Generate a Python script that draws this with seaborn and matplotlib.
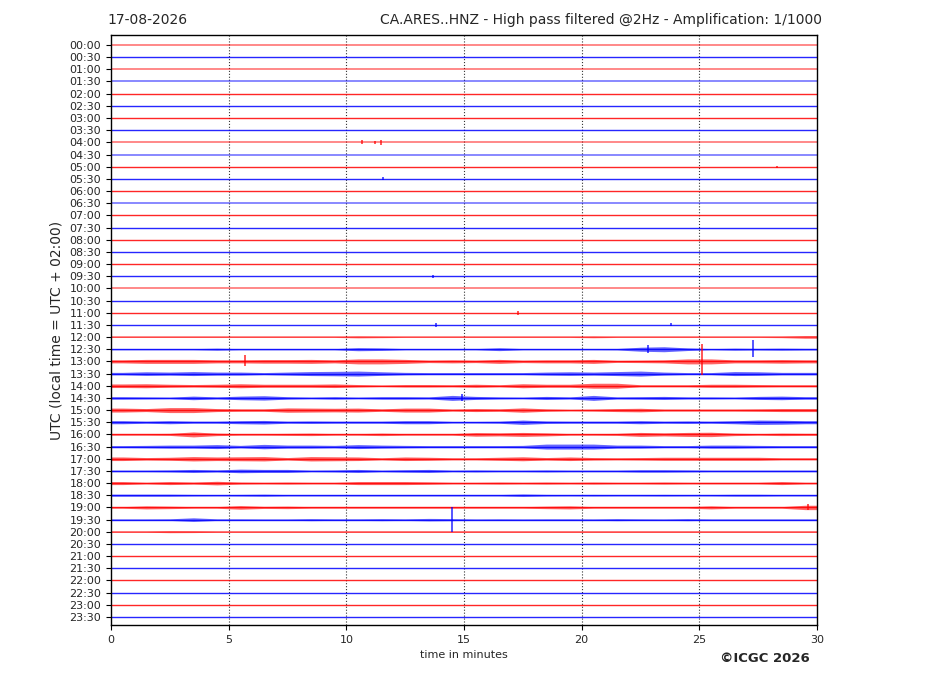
import numpy as np
import pandas as pd
import matplotlib
matplotlib.use("Agg")
import matplotlib.pyplot as plt
import seaborn as sns

# ---------------- data ----------------
date_label = "17-08-2026"
title_right = "CA.ARES..HNZ - High pass filtered @2Hz - Amplification: 1/1000"
row_labels = [f"{h:02d}:{m:02d}" for h in range(24) for m in (0, 30)]
row_colors = ["red", "blue"] * 24
pale_rows = ["00:00", "01:00", "01:30", "04:00", "04:30", "06:30", "10:00", "12:00", "20:00"]
minute_centers = np.arange(0.5, 30, 1.0)
x_ticks = [0, 5, 10, 15, 20, 25, 30]

# envelope half-amplitudes (pixels) per minute for the active rows
env_1200 = [0.4, 0.4, 0.4, 0.4, 0.4, 0.4, 0.4, 0.4, 0.4, 0.4, 0.8, 0.6, 0.4, 0.4, 0.4, 0.4, 0.4, 0.4, 0.4, 0.4, 0.7, 0.4, 0.4, 0.4, 0.4, 0.4, 0.4, 0.4, 0.6, 1.2]
env_1230 = [0.6, 0.6, 0.6, 0.6, 1.0, 0.6, 0.6, 0.6, 0.6, 0.6, 1.5, 1.2, 0.6, 0.6, 0.6, 0.6, 1.4, 0.6, 0.6, 0.6, 0.6, 0.7, 2.0, 2.5, 1.3, 0.6, 1.0, 0.8, 1.0, 0.8]
env_1300 = [1.5, 2.0, 2.0, 2.0, 1.5, 1.5, 1.8, 1.8, 2.0, 1.5, 2.5, 2.5, 2.0, 1.2, 1.5, 1.2, 2.0, 1.2, 1.5, 1.5, 2.0, 1.0, 1.2, 1.5, 2.5, 2.5, 1.5, 1.5, 1.8, 1.5]
env_1330 = [1.2, 1.8, 1.5, 2.0, 1.5, 1.5, 1.0, 1.5, 2.0, 2.2, 2.5, 1.8, 1.2, 1.0, 1.0, 1.0, 1.0, 1.0, 1.5, 1.8, 1.5, 2.0, 2.5, 1.5, 1.0, 1.0, 2.0, 1.8, 1.2, 1.2]
env_1400 = [1.8, 2.0, 1.5, 1.2, 1.5, 2.0, 1.5, 1.5, 1.5, 1.8, 1.2, 0.8, 1.2, 1.2, 1.0, 1.5, 1.0, 2.0, 1.5, 1.5, 2.5, 2.5, 1.0, 1.0, 1.0, 1.5, 1.5, 1.2, 1.0, 1.0]
env_1430 = [1.2, 1.0, 0.8, 1.8, 1.0, 1.8, 2.2, 1.2, 0.8, 1.2, 0.8, 1.2, 1.2, 1.0, 2.5, 1.5, 1.0, 0.8, 1.5, 1.0, 2.5, 1.0, 1.2, 1.5, 1.0, 1.0, 0.8, 1.5, 1.8, 1.2]
env_1500 = [2.0, 1.5, 2.5, 2.5, 1.5, 1.2, 1.2, 2.2, 2.0, 1.8, 2.0, 1.2, 2.0, 2.0, 1.0, 1.5, 1.2, 2.2, 1.2, 0.8, 1.0, 1.5, 1.8, 1.0, 1.0, 1.0, 1.0, 1.2, 1.5, 1.5]
env_1530 = [1.5, 1.0, 1.5, 1.0, 1.0, 1.5, 1.8, 1.0, 1.2, 1.0, 1.0, 1.0, 1.5, 1.5, 0.8, 0.8, 1.0, 2.2, 1.2, 1.0, 1.0, 1.0, 1.5, 1.0, 1.2, 1.0, 1.5, 2.2, 2.0, 1.5]
env_1600 = [0.8, 0.8, 1.0, 2.5, 1.2, 0.8, 0.8, 1.0, 1.2, 0.8, 0.8, 1.2, 0.8, 0.8, 0.8, 1.8, 1.5, 2.0, 1.5, 0.8, 0.8, 1.0, 2.0, 1.5, 2.0, 2.2, 1.2, 0.8, 1.2, 1.0]
env_1630 = [1.0, 1.2, 1.5, 1.5, 2.0, 1.2, 2.2, 1.5, 1.5, 1.2, 2.0, 1.5, 1.2, 1.0, 1.0, 1.0, 1.0, 1.2, 2.5, 2.5, 2.5, 1.5, 1.5, 1.0, 1.0, 1.5, 1.5, 1.2, 1.0, 1.0]
env_1700 = [1.8, 1.2, 1.5, 2.2, 1.8, 2.0, 2.2, 1.2, 2.2, 2.0, 1.8, 1.0, 1.8, 1.5, 1.0, 1.0, 1.5, 2.0, 1.2, 1.8, 1.2, 1.0, 1.2, 1.5, 1.5, 1.5, 1.5, 1.5, 1.0, 1.0]
env_1730 = [0.8, 0.8, 1.0, 1.5, 1.0, 1.8, 1.5, 1.5, 0.8, 1.0, 1.5, 0.8, 1.2, 1.5, 0.8, 1.0, 0.8, 0.8, 1.0, 0.8, 0.8, 0.8, 1.2, 1.2, 1.0, 0.8, 0.8, 0.8, 0.8, 0.8]
env_1800 = [1.5, 0.8, 1.5, 1.0, 1.8, 1.0, 0.8, 1.0, 0.8, 0.8, 1.5, 1.5, 1.5, 1.2, 0.8, 0.8, 1.0, 0.8, 1.0, 0.8, 1.0, 0.8, 0.8, 1.0, 0.8, 0.8, 0.8, 0.8, 1.5, 0.8]
env_1830 = [1.0, 1.0, 1.0, 0.8, 0.7, 0.8, 1.0, 0.7, 0.7, 0.7, 0.7, 0.7, 0.7, 0.7, 0.7, 0.7, 0.7, 1.2, 0.8, 0.7, 0.8, 0.7, 0.7, 0.8, 0.7, 0.7, 0.9, 0.9, 0.7, 0.7]
env_1900 = [0.8, 1.5, 1.2, 0.8, 0.8, 1.8, 1.0, 1.2, 0.8, 0.8, 0.8, 0.8, 0.8, 0.8, 0.8, 0.8, 0.8, 0.8, 1.2, 1.5, 0.8, 0.8, 0.8, 0.8, 0.8, 1.5, 0.8, 0.8, 0.8, 2.2]
env_1930 = [0.7, 0.7, 0.8, 1.8, 0.8, 0.8, 0.7, 0.7, 1.0, 0.8, 0.8, 1.0, 0.8, 1.2, 1.0, 0.7, 0.8, 0.7, 0.8, 0.8, 0.7, 1.0, 0.8, 0.7, 1.0, 0.7, 0.7, 0.7, 0.7, 0.7]
env_2000 = [0.5, 0.5, 0.9, 0.8, 0.5, 0.5, 0.5, 0.5, 0.5, 0.5, 0.5, 0.5, 0.5, 0.5, 0.5, 0.5, 0.5, 0.5, 0.5, 0.5, 0.5, 0.5, 0.5, 0.5, 0.5, 0.5, 0.5, 0.5, 0.5, 0.5]

active_env = {
    "12:00": env_1200, "12:30": env_1230, "13:00": env_1300, "13:30": env_1330,
    "14:00": env_1400, "14:30": env_1430, "15:00": env_1500, "15:30": env_1530,
    "16:00": env_1600, "16:30": env_1630, "17:00": env_1700, "17:30": env_1730,
    "18:00": env_1800, "18:30": env_1830, "19:00": env_1900, "19:30": env_1930,
    "20:00": env_2000,
}

# isolated spikes: row, minute, extent up (px), extent down (px)
spike_rows = ["04:00", "04:00", "04:00", "05:30", "05:00", "09:30", "11:00", "11:30", "11:30",
              "12:30", "12:30", "13:00", "13:00", "14:30", "19:30", "19:00"]
spike_times = [10.67, 11.2, 11.47, 11.56, 28.3, 13.7, 17.3, 13.8, 23.8,
               22.8, 27.3, 5.7, 25.1, 14.9, 14.5, 29.6]
spike_up = [2, 1.5, 2.5, 1.5, 1, 1.5, 2, 2, 1.5, 4, 9, 6, 17, 3.5, 13, 3]
spike_down = [2, 1.5, 2.5, 1.5, 1, 1.5, 2, 2, 1.5, 4, 8, 5, 14, 3.5, 12, 3]

# ---------------- figure ----------------
sns.set_style("ticks")
plt.rcParams["font.family"] = ["DejaVu Sans"]

W, H = 927, 696
fig, ax = plt.subplots(figsize=(W / 100, H / 100), dpi=100)
ax_l, ax_r, ax_t, ax_b = 111, 817, 35, 625
fig.subplots_adjust(left=ax_l / W, right=ax_r / W, top=1 - ax_t / H, bottom=1 - ax_b / H)

y_top, y_bot = -0.82, 47.66
ax.set_xlim(0, 30)
ax.set_ylim(y_bot, y_top)
px = (y_bot - y_top) / (ax_b - ax_t)  # rows per pixel

# baselines drawn via seaborn
base_df = pd.DataFrame({
    "label": [lab for lab in row_labels for _ in (0, 1)],
    "minute": [0, 30] * len(row_labels),
    "row": [i for i in range(len(row_labels)) for _ in (0, 1)],
})
palette = dict(zip(row_labels, row_colors))
solid_df = base_df[~base_df["label"].isin(pale_rows)]
pale_df = base_df[base_df["label"].isin(pale_rows)]
sns.lineplot(data=solid_df, x="minute", y="row", hue="label", palette=palette,
             legend=False, ax=ax, lw=1.0, alpha=0.85, estimator=None)
sns.lineplot(data=pale_df, x="minute", y="row", hue="label", palette=palette,
             legend=False, ax=ax, lw=1.3, alpha=0.5, estimator=None)

# envelopes
xs = np.concatenate([[0.0], minute_centers, [30.0]])
for i, lab in enumerate(row_labels):
    if lab in active_env:
        e = np.array(active_env[lab])
        e = np.concatenate([[e[0]], e, [e[-1]]])
        ax.fill_between(xs, i - e * px, i + e * px, color=row_colors[i], alpha=0.6, lw=0)

# spikes
for r, t, up, dn in zip(spike_rows, spike_times, spike_up, spike_down):
    i = row_labels.index(r)
    ax.vlines(t, i - up * px, i + dn * px, color=row_colors[i], lw=1.1, alpha=0.85)

# axes cosmetics
ax.set_yticks(range(len(row_labels)))
ax.set_yticklabels(row_labels, fontsize=8)
ax.set_xticks(x_ticks)
ax.set_xticklabels([str(v) for v in x_ticks], fontsize=8)
for v in x_ticks[1:-1]:
    ax.axvline(v, color="#333333", ls=":", lw=0.8, zorder=0.5)
ax.tick_params(axis="both", length=3.5, width=0.8, color="black")
for s in ax.spines.values():
    s.set_color("black")
    s.set_linewidth(1.0)
ax.set_xlabel("time in minutes", fontsize=8)
ax.set_ylabel("UTC (local time = UTC + 02:00)", fontsize=10)

fig.text(107 / W, 1 - 20 / H, date_label, ha="left", va="center", fontsize=10)
fig.text(822 / W, 1 - 20 / H, title_right, ha="right", va="center", fontsize=10)
fig.text(810 / W, 1 - 658 / H, "\u00a9ICGC 2026", ha="right", va="center",
         fontsize=9.5, fontweight="bold")

fig.savefig("out.png", dpi=100)
